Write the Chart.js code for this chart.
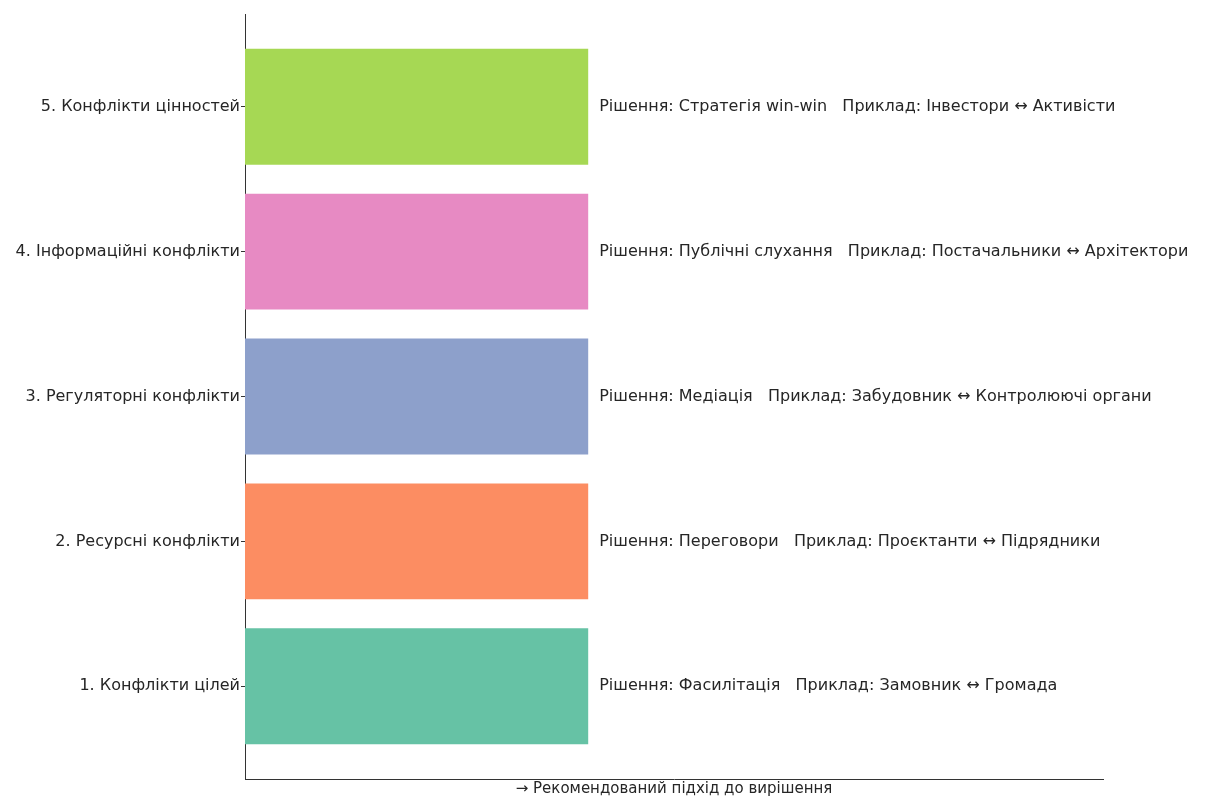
<!DOCTYPE html>
<html>
<head>
<meta charset="utf-8">
<script src="https://cdn.jsdelivr.net/npm/chart.js@4/dist/chart.umd.min.js"></script>
<style>
  html, body { margin: 0; padding: 0; background: #fff; }
  #wrap { width: 1205px; height: 798px; position: relative; }
</style>
</head>
<body>
<div id="wrap"><canvas id="chart"></canvas></div>
<script>
// ── Дані ─────────────────────────────────────────────
const categories = [
  "1. Конфлікти цілей",
  "2. Ресурсні конфлікти",
  "3. Регуляторні конфлікти",
  "4. Інформаційні конфлікти",
  "5. Конфлікти цінностей"
]
const values = [1, 1, 1, 1, 1]
const solutions = [
  "Рішення: Фасилітація   Приклад: Замовник ↔ Громада",
  "Рішення: Переговори   Приклад: Проєктанти ↔ Підрядники",
  "Рішення: Медіація   Приклад: Забудовник ↔ Контролюючі органи",
  "Рішення: Публічні слухання   Приклад: Постачальники ↔ Архітектори",
  "Рішення: Стратегія win-win   Приклад: Інвестори ↔ Активісти"
]
const barColors = ["#66c2a5", "#fc8d62", "#8da0cb", "#e78ac3", "#a6d854"]
const xTitle = "→ Рекомендований підхід до вирішення"

const font = "'DejaVu Sans', sans-serif"
const textColor = "#262626"

// підписи праворуч від кожного стовпчика
const barText = {
  id: "barText",
  afterDatasetsDraw(chart) {
    const { ctx, scales: { x, y } } = chart
    ctx.save()
    ctx.font = "16px " + font
    ctx.fillStyle = textColor
    ctx.textBaseline = "middle"
    ctx.textAlign = "left"
    values.forEach((v, i) => {
      ctx.fillText(solutions[i], x.getPixelForValue(v) + 11, y.getPixelForValue(i))
    })
    ctx.restore()
  }
}

new Chart(document.getElementById("chart"), {
  type: "bar",
  data: {
    datasets: [{
      data: values.map((v, i) => ({ x: v, y: i })),
      backgroundColor: barColors,
      borderWidth: 0,
      categoryPercentage: 1,
      barPercentage: 0.8
    }]
  },
  options: {
    indexAxis: "y",
    responsive: true,
    maintainAspectRatio: false,
    animation: false,
    layout: { padding: { top: 14, right: 102, bottom: 0, left: 0 } },
    plugins: {
      legend: { display: false },
      tooltip: { enabled: false }
    },
    scales: {
      x: {
        type: "linear",
        min: 0,
        max: 2.5,
        grid: { display: false, drawTicks: false },
        border: { color: "#333", width: 1 },
        ticks: { display: false },
        title: {
          display: true,
          text: xTitle,
          color: textColor,
          font: { family: font, size: 15 },
          padding: { top: 2, bottom: 0 }
        },
        afterFit(s) { s.height = 19 }
      },
      y: {
        type: "linear",
        offset: false,
        min: -0.64,
        max: 4.64,
        afterBuildTicks(s) { s.ticks = categories.map((c, i) => ({ value: i })) },
        grid: { offset: false, drawOnChartArea: false, drawTicks: true, tickLength: 4, color: "#333" },
        border: { color: "#333", width: 1 },
        ticks: {
          color: textColor,
          font: { family: font, size: 16 },
          padding: 1,
          callback: v => categories[v]
        },
        afterFit(s) { s.width = 245 }
      }
    }
  },
  plugins: [barText]
})
</script>
</body>
</html>
